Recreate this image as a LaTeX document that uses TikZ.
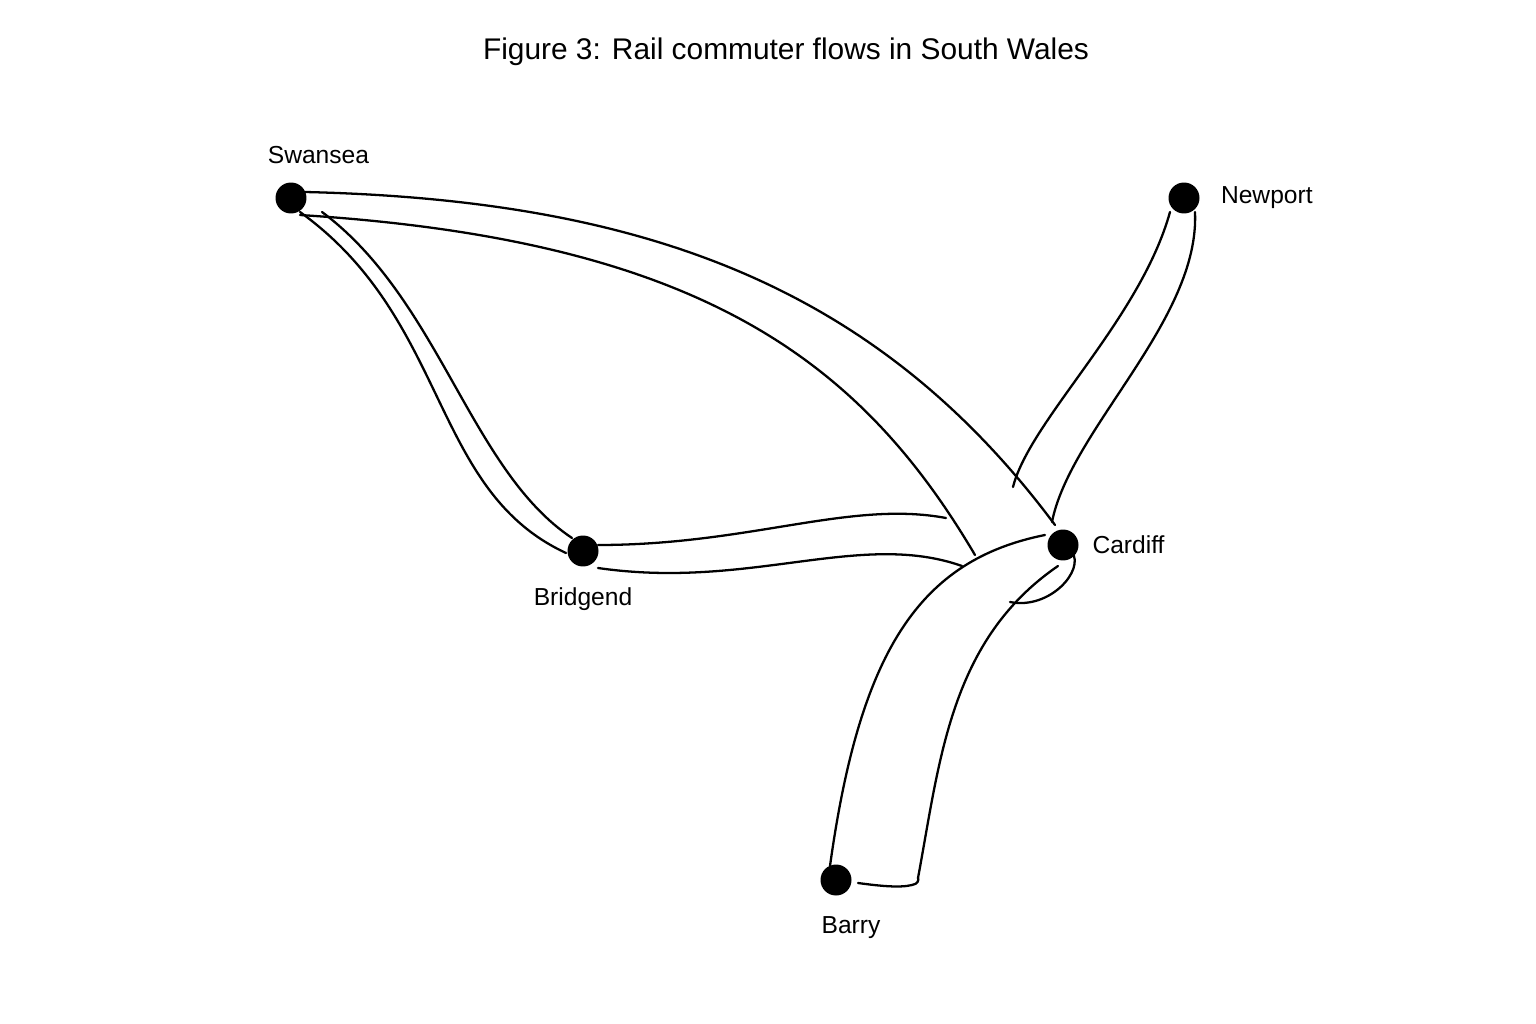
\documentclass[tikz,border=0pt]{standalone}
\usepackage{fontspec}
\setmainfont{Liberation Sans}
\usetikzlibrary{positioning}
\begin{document}
\begin{tikzpicture}[x=0.02cm,y=-0.02cm]
            \useasboundingbox (0,0) rectangle (1536,1024);
            \node (title) at (786,52) {\fontsize{17}{20}\selectfont Figure 3: Rail commuter flows in South Wales};
            \begin{scope}[every node/.style={fill=black,circle,inner sep=0pt,minimum size=0.62cm}]
                \node (S) at (291,198) {};
                \node (N) at (1184,198) {};
                \node (B) at (583,551) {};
                \node (C) at (1063,545) {};
                \node (Y) at (836,880) {};
            \end{scope}
            
            \begin{scope}[every node/.style={font=\fontsize{14}{16}\selectfont}]
                \node [above=0.25cm of S, xshift=0.55cm] {Swansea};
                \node [right=0.3cm of N] {Newport};
                \node [below=0.3cm of B] {Bridgend};
                \node [right=0.15cm of C] {Cardiff};
                \node [below=0.3cm of Y, xshift=0.3cm] {Barry};
            \end{scope}
            
            \begin{scope}[line width=1.3pt, line cap=round]
                % Swansea -- Cardiff
                \draw (305,192) .. controls (650,200) and (880,290) .. (1055,525);
                \draw (300,215) .. controls (700,240) and (860,360) .. (975,555);
                % Swansea -- Bridgend
                \draw (300,212) .. controls (450,320) and (430,490) .. (566,553);
                \draw (322,212) .. controls (440,300) and (470,470) .. (572,538);
                % Bridgend -- Cardiff
                \draw (598,545) .. controls (750,545) and (850,500) .. (946,518);
                \draw (598,568) .. controls (750,590) and (860,530) .. (962,566);
                % Newport -- Cardiff
                \draw (1170,212) .. controls (1140,320) and (1030,420) .. (1013,487);
                \draw (1195,212) .. controls (1200,320) and (1070,430) .. (1052,522);
                % Barry -- Cardiff
                \draw (830,866) .. controls (860,650) and (920,560) .. (1045,535);
                \draw (918,878) .. controls (940,760) and (950,640) .. (1058,566);
                \draw (1010,602) .. controls (1050,610) and (1085,570) .. (1072,552);
                \draw (858,883) .. controls (880,886) and (900,888) .. (912,885)
                      .. controls (918,884) and (919,880) .. (918,878);
            \end{scope}
        \end{tikzpicture}
\end{document}
